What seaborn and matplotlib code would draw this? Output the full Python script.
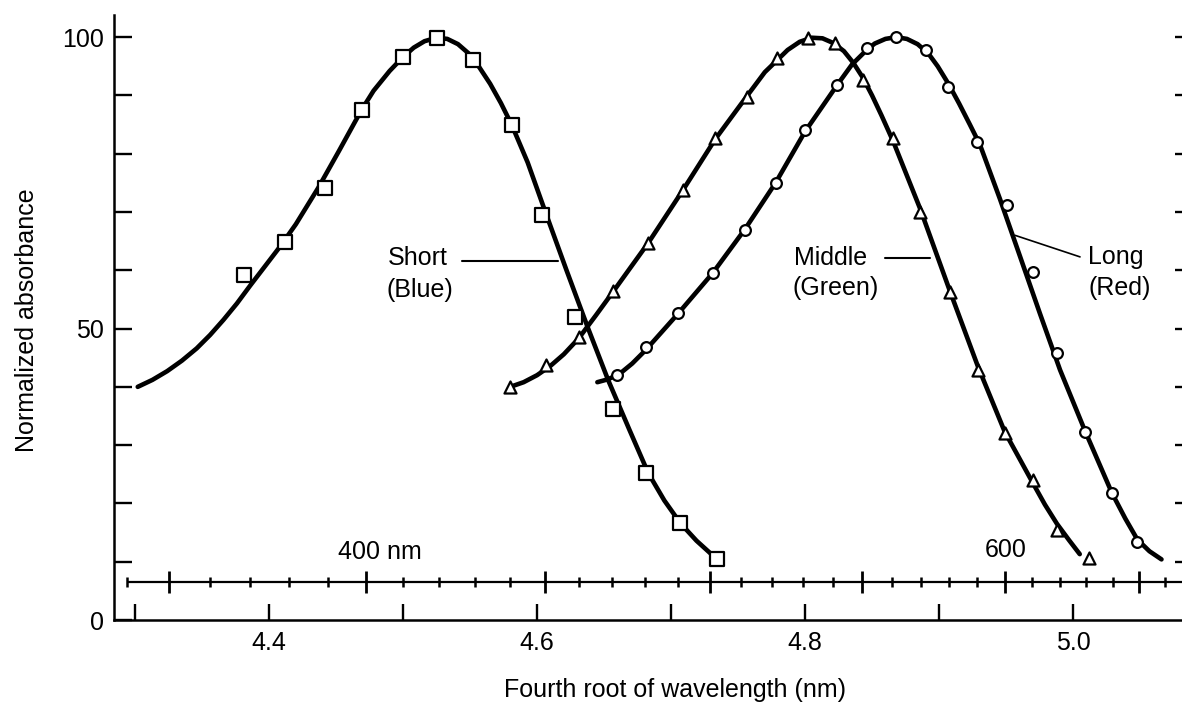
import matplotlib
matplotlib.use("Agg")
import matplotlib.pyplot as plt
import seaborn as sns

# ---------------- data ----------------
# measured points
short_x = [4.381, 4.412, 4.442, 4.469, 4.500, 4.525, 4.552, 4.581, 4.604, 4.628, 4.657, 4.681, 4.707, 4.734]
short_y = [59.2, 64.8, 74.1, 87.5, 96.6, 99.8, 96.1, 84.9, 69.5, 52.0, 36.2, 25.2, 16.6, 10.5]

middle_x = [4.580, 4.607, 4.631, 4.657, 4.683, 4.709, 4.733, 4.757, 4.779, 4.802, 4.822,
            4.843, 4.866, 4.886, 4.908, 4.929, 4.949, 4.970, 4.988, 5.012]
middle_y = [40.0, 43.7, 48.5, 56.5, 64.7, 73.8, 82.7, 89.7, 96.4, 99.8, 99.0,
            92.6, 82.7, 70.0, 56.3, 42.9, 32.1, 24.0, 15.4, 10.6]

long_x = [4.660, 4.681, 4.705, 4.731, 4.755, 4.778, 4.800, 4.824, 4.846, 4.868, 4.890,
          4.907, 4.928, 4.951, 4.970, 4.988, 5.009, 5.029, 5.048]
long_y = [42.0, 46.8, 52.6, 59.5, 66.9, 75.0, 84.0, 91.8, 98.1, 100.0, 97.8,
          91.4, 82.0, 71.2, 59.7, 45.8, 32.2, 21.8, 13.4]

# fitted curves
short_curve_x = [4.302, 4.313, 4.324, 4.335, 4.346, 4.356, 4.366, 4.376, 4.386, 4.397, 4.408,
                 4.420, 4.4366, 4.452, 4.469, 4.478, 4.490, 4.500, 4.508, 4.516, 4.525,
                 4.533, 4.541, 4.549, 4.557, 4.565, 4.573, 4.581, 4.593, 4.607, 4.622,
                 4.638, 4.653, 4.669, 4.683, 4.695, 4.707, 4.719, 4.731]
short_curve_y = [40.0, 41.2, 42.7, 44.5, 46.6, 48.9, 51.5, 54.3, 57.4, 60.7, 64.0,
                 67.9, 74.1, 80.4, 87.5, 90.8, 94.2, 96.6, 98.2, 99.3, 99.9,
                 99.7, 98.8, 97.2, 94.8, 92.0, 88.7, 85.0, 78.5, 69.5, 60.0,
                 50.1, 41.2, 32.6, 25.2, 20.5, 16.6, 13.6, 11.1]

middle_curve_x = [4.580, 4.590, 4.600, 4.610, 4.620, 4.631, 4.644, 4.657, 4.683, 4.709, 4.733,
                  4.757, 4.770, 4.779, 4.787, 4.796, 4.805, 4.813, 4.821, 4.829, 4.836,
                  4.843, 4.850, 4.857, 4.866, 4.886, 4.908, 4.929, 4.949, 4.960, 4.970,
                  4.979, 4.988, 4.997, 5.005]
middle_curve_y = [40.0, 40.8, 42.0, 43.6, 45.6, 48.3, 52.3, 56.4, 64.7, 73.8, 82.5,
                  90.0, 94.0, 96.0, 97.8, 99.2, 99.9, 99.8, 99.0, 97.6, 95.6,
                  93.1, 90.0, 86.6, 82.0, 70.5, 56.5, 43.5, 32.3, 27.7, 23.5,
                  19.8, 16.5, 13.7, 11.3]

long_curve_x = [4.645, 4.653, 4.662, 4.671, 4.681, 4.693, 4.705, 4.731, 4.755, 4.778, 4.800,
                4.824, 4.835, 4.846, 4.852, 4.860, 4.868, 4.876, 4.884, 4.892, 4.899,
                4.907, 4.915, 4.923, 4.9306, 4.9455, 4.9604, 4.9754, 4.9903, 5.009,
                5.029, 5.039, 5.048, 5.057, 5.066]
long_curve_y = [40.8, 41.3, 42.3, 44.0, 46.3, 49.4, 52.5, 59.5, 67.0, 75.0, 83.8,
                91.8, 95.3, 97.8, 98.9, 99.7, 100.0, 99.7, 98.8, 97.2, 95.0,
                92.0, 88.6, 85.0, 81.5, 72.2, 62.4, 52.5, 42.9, 32.4,
                21.8, 17.4, 13.8, 11.8, 10.4]

# wavelength scale (nm)
nm_major = [350, 400, 450, 500, 550, 600, 650]
nm_minor = [340, 360, 370, 380, 390, 410, 420, 430, 440, 460, 470, 480, 490,
            510, 520, 530, 540, 560, 570, 580, 590, 610, 620, 630, 640, 660, 670]
nm_line = [340, 680]
nm_labels = {"400 nm": (4.4515, 11.7), "600": (4.9343, 12.0)}

x_ticks = [4.3, 4.4, 4.5, 4.6, 4.7, 4.8, 4.9, 5.0]
x_ticklabels = ["", "4.4", "", "4.6", "", "4.8", "", "5.0"]
y_ticks = [0, 10, 20, 30, 40, 50, 60, 70, 80, 90, 100]
y_ticklabels = ["0", "", "", "", "", "50", "", "", "", "", "100"]

# ---------------- style ----------------
sns.set_style("ticks")
plt.rcParams["font.family"] = ["Liberation Sans", "DejaVu Sans"]
plt.rcParams["text.color"] = "black"
plt.rcParams["axes.labelcolor"] = "black"
plt.rcParams["xtick.color"] = "black"
plt.rcParams["ytick.color"] = "black"
FS = 18

fig = plt.figure(figsize=(11.82, 7.15), dpi=100)
ax = fig.add_axes([114 / 1182, 95 / 715, 1 - 114 / 1182, (620 - 15) / 715])

curves = [(short_curve_x, short_curve_y), (middle_curve_x, middle_curve_y), (long_curve_x, long_curve_y)]
for cx, cy in curves:
    sns.lineplot(x=cx, y=cy, ax=ax, color="black", linewidth=3.3, sort=False,
                 estimator=None, zorder=2)
for line in ax.lines:
    line.set_solid_joinstyle("round")
    line.set_solid_capstyle("round")

pts = [(short_x, short_y, "s", 90), (middle_x, middle_y, "^", 75), (long_x, long_y, "o", 60)]
for px, py, mk, sz in pts:
    sns.scatterplot(x=px, y=py, ax=ax, marker=mk, s=sz, facecolor="white",
                    edgecolor="black", linewidth=1.6, zorder=3)

# wavelength axis
ylam = 6.45
ax.plot([v ** 0.25 for v in nm_line], [ylam, ylam], color="black", lw=1.6, zorder=2,
        solid_capstyle="butt")
ax.plot([v ** 0.25 for v in nm_major], [ylam] * len(nm_major), linestyle="none",
        marker="|", markersize=16.5, markeredgewidth=2.0, color="black")
ax.plot([v ** 0.25 for v in nm_minor], [ylam] * len(nm_minor), linestyle="none",
        marker="|", markersize=7.5, markeredgewidth=1.8, color="black")
for txt, (tx, ty) in nm_labels.items():
    ax.text(tx, ty, txt, fontsize=FS, ha="left", va="center", color="black")

# curve labels with leader lines
ax.text(4.4888, 62.1, "Short", fontsize=FS, ha="left", va="center")
ax.text(4.4880, 56.6, "(Blue)", fontsize=FS, ha="left", va="center")
ax.plot([4.5440, 4.6157], [61.6, 61.6], color="black", lw=1.5)

ax.text(4.7920, 62.1, "Middle", fontsize=FS, ha="left", va="center")
ax.text(4.7905, 57.0, "(Green)", fontsize=FS, ha="left", va="center")
ax.plot([4.8597, 4.8933], [62.1, 62.1], color="black", lw=1.5)

ax.text(5.0112, 62.3, "Long", fontsize=FS, ha="left", va="center")
ax.text(5.0112, 57.0, "(Red)", fontsize=FS, ha="left", va="center")
ax.plot([4.9567, 5.0052], [66.0, 62.3], color="black", lw=1.2)

# axes
ax.set_xlim(4.2843, 5.0813)
ax.set_ylim(0, 103.8)
ax.set_xticks(x_ticks)
ax.set_xticklabels(x_ticklabels, fontsize=FS)
ax.set_yticks(y_ticks)
ax.set_yticklabels(y_ticklabels, fontsize=FS)
ax.tick_params(axis="x", direction="in", length=11.5, width=1.7, pad=8, color="black",
               labelcolor="black")
ax.tick_params(axis="y", direction="in", length=13, width=1.7, pad=7, color="black",
               labelcolor="black")
for s in ["top", "right"]:
    ax.spines[s].set_visible(False)
for s in ["left", "bottom"]:
    ax.spines[s].set_linewidth(1.8)
    ax.spines[s].set_color("black")
ax.set_xlabel("")
ax.set_ylabel("")

# right-side short ticks (tick marks only)
ax.yaxis.set_ticks_position("both")
for t in ax.yaxis.get_major_ticks():
    t.tick2line.set_markersize(5)
    t.tick2line.set_markeredgewidth(1.7)
    t.label2.set_visible(False)
ax.yaxis.get_major_ticks()[0].tick2line.set_visible(False)

fig.text(27 / 1182, 1 - 320 / 715, "Normalized absorbance", rotation=90,
         fontsize=FS, ha="center", va="center")
fig.text(675 / 1182, 1 - 690 / 715, "Fourth root of wavelength (nm)",
         fontsize=FS, ha="center", va="center")

fig.savefig("out.png", dpi=100, facecolor="white")
